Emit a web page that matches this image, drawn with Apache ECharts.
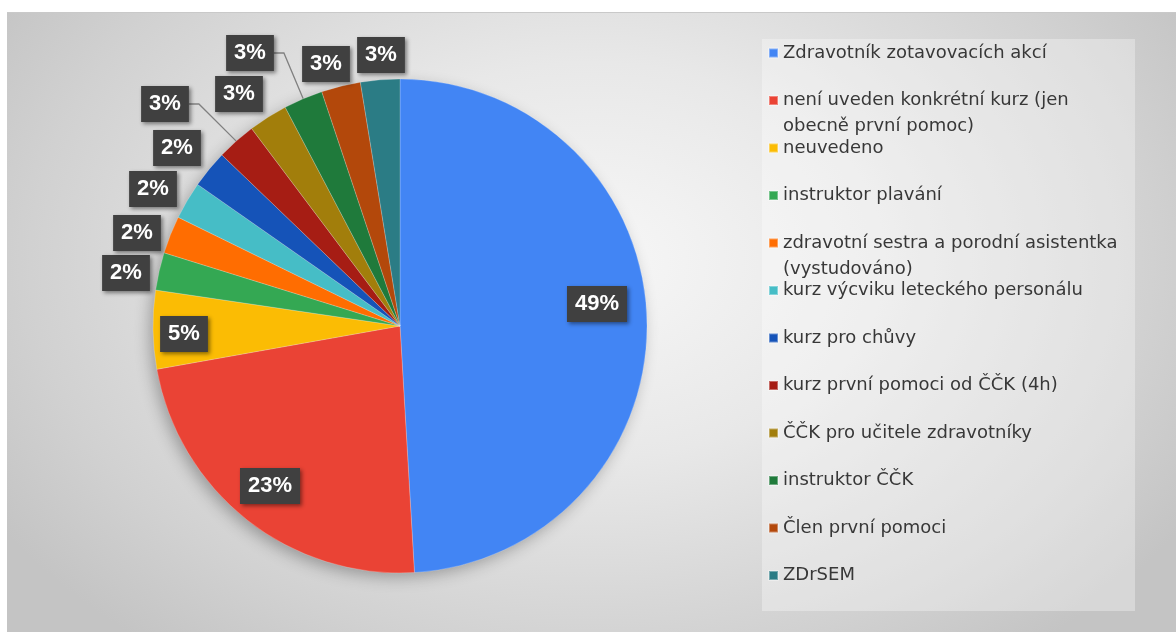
<!DOCTYPE html>
<html>
<head>
<meta charset="utf-8">
<script src="https://cdn.jsdelivr.net/npm/echarts@6/dist/echarts.min.js"></script>
<style>
  html, body { margin: 0; padding: 0; background: #fff; }
  #frame {
    position: absolute; left: 7px; top: 12px; right: 0; bottom: 0;
    border-top: 1px solid #c9c9c9;
    background: radial-gradient(ellipse 60% 80% at 50% 40%, #f7f7f7 0%, #e8e8e8 40%, #d1d1d1 80%, #c4c4c4 100%);
  }
  #chart { position: absolute; left: 0; top: 0; width: 1176px; height: 632px; }
</style>
</head>
<body>
<div id="frame"></div>
<div id="chart"></div>
<script>
// kategorie a podíly (v %)
const categories = [
  'Zdravotník zotavovacích akcí',
  'není uveden konkrétní kurz (jen\nobecně první pomoc)',
  'neuvedeno',
  'instruktor plavání',
  'zdravotní sestra a porodní asistentka\n(vystudováno)',
  'kurz výcviku leteckého personálu',
  'kurz pro chůvy',
  'kurz první pomoci od ČČK (4h)',
  'ČČK pro učitele zdravotníky',
  'instruktor ČČK',
  'Člen první pomoci',
  'ZDrSEM'
];
const values = [48.8, 23.0, 5.1, 2.45, 2.45, 2.45, 2.45, 2.55, 2.55, 2.55, 2.55, 2.55];
const colors = [
  '#4285f4', '#ea4335', '#fbbc04', '#34a853', '#ff6d01', '#46bdc6',
  '#1553b8', '#a61d14', '#a27e0b', '#1f7a3b', '#b3480b', '#2b7c85'
];

const CENTER = [400, 326];
const RADIUS = 247;
// kde leží popisky (střed rámečku)
const LABEL_CENTERS = [
  [597, 304], [270, 486], [184, 334], [126, 273], [137, 233], [153, 189],
  [177, 148], [165, 104], [239, 94], [250, 53], [326, 64], [381, 55]
];
const LEADER_LINES = [7, 9];

const chart = echarts.init(document.getElementById('chart'));

const data = categories.map((name, i) => ({
  name: name,
  value: values[i],
  itemStyle: { color: colors[i] },
  label: { position: i < 3 ? 'inside' : 'outside' },
  labelLine: { show: LEADER_LINES.indexOf(i) >= 0 }
}));

chart.setOption({
  backgroundColor: 'transparent',
  animation: false,
  graphic: [
    {
      type: 'rect',
      z: -10,
      shape: { x: 762, y: 39, width: 373, height: 572 },
      style: { fill: 'rgba(255,255,255,0.32)' }
    },
    {
      type: 'circle',
      z: -5,
      shape: { cx: CENTER[0], cy: CENTER[1], r: RADIUS - 1 },
      style: {
        fill: '#cccccc',
        shadowBlur: 16,
        shadowOffsetX: -4,
        shadowOffsetY: 5,
        shadowColor: 'rgba(0,0,0,0.3)'
      }
    }
  ],
  legend: {
    orient: 'vertical',
    left: 768,
    top: 14,
    padding: 0,
    itemGap: -30.5,
    itemWidth: 9,
    itemHeight: 9,
    icon: 'rect',
    selectedMode: false,
    data: categories,
    formatter: (name) => {
      const lines = name.split('\n');
      return '\n' + lines[0] + '\n' + (lines[1] || '');
    },
    textStyle: {
      fontFamily: 'DejaVu Sans',
      fontSize: 18,
      lineHeight: 26,
      color: '#383838'
    }
  },
  series: [
    {
      type: 'pie',
      center: CENTER,
      radius: RADIUS,
      startAngle: 90,
      clockwise: true,
      avoidLabelOverlap: false,
      percentPrecision: 2,
      itemStyle: {
        borderColor: 'rgba(255,255,255,0.35)',
        borderWidth: 0.6
      },
      label: {
        show: true,
        formatter: (p) => Math.round(p.percent) + '%',
        color: '#ffffff',
        fontFamily: 'Liberation Sans',
        fontWeight: 'bold',
        fontSize: 22,
        lineHeight: 26,
        backgroundColor: '#404040',
        padding: [5, 8],
        shadowColor: 'rgba(0,0,0,0.45)',
        shadowBlur: 4,
        shadowOffsetX: 2,
        shadowOffsetY: 2
      },
      labelLine: {
        length: 10,
        length2: 10,
        lineStyle: { color: '#808080', width: 1.3 }
      },
      labelLayout: (params) => {
        const p = LABEL_CENTERS[params.dataIndex];
        return { x: p[0], y: p[1], align: 'center', verticalAlign: 'middle' };
      },
      data: data
    }
  ]
});
</script>
</body>
</html>
